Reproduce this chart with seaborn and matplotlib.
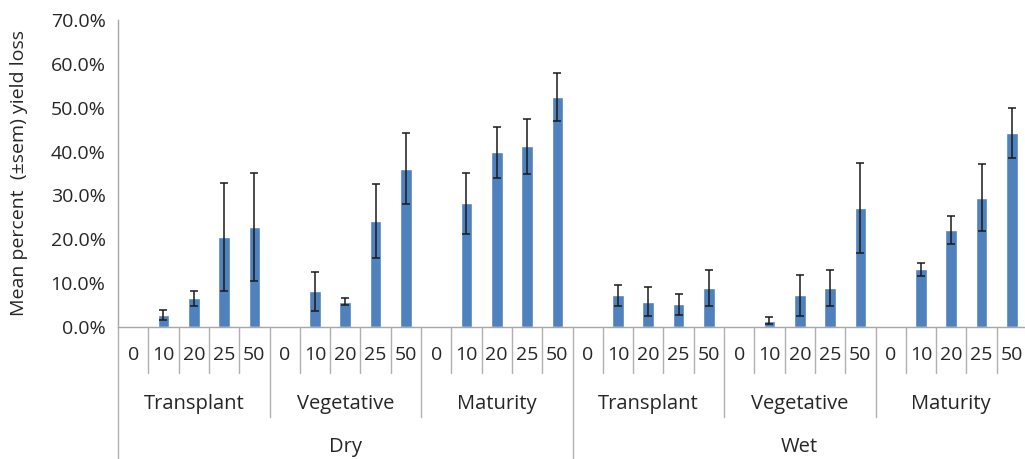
import matplotlib
matplotlib.use("Agg")
import matplotlib.pyplot as plt
import matplotlib.transforms as mtransforms
import seaborn as sns
import pandas as pd
import numpy as np

# ---- data ----
seasons = ["Dry", "Wet"]
stages = ["Transplant", "Vegetative", "Maturity"]
doses = ["0", "10", "20", "25", "50"]

dry_transplant = [0.0, 2.8, 6.5, 20.6, 22.8]
dry_transplant_sem = [0.0, 1.1, 1.7, 12.3, 12.4]
dry_vegetative = [0.0, 8.1, 5.8, 24.2, 36.1]
dry_vegetative_sem = [0.0, 4.5, 0.8, 8.5, 8.1]
dry_maturity = [0.0, 28.2, 39.8, 41.2, 52.5]
dry_maturity_sem = [0.0, 7.0, 5.8, 6.2, 5.5]
wet_transplant = [0.0, 7.2, 5.8, 5.2, 8.8]
wet_transplant_sem = [0.0, 2.4, 3.4, 2.4, 4.1]
wet_vegetative = [0.0, 1.4, 7.2, 8.8, 27.2]
wet_vegetative_sem = [0.0, 0.8, 4.7, 4.1, 10.3]
wet_maturity = [0.0, 13.2, 22.1, 29.5, 44.2]
wet_maturity_sem = [0.0, 1.5, 3.1, 7.6, 5.7]

y_ticks = [0, 10, 20, 30, 40, 50, 60, 70]
y_label = "Mean percent  (\u00b1sem) yield loss"

# ---- build table ----
series = [dry_transplant, dry_vegetative, dry_maturity,
          wet_transplant, wet_vegetative, wet_maturity]
sems = [dry_transplant_sem, dry_vegetative_sem, dry_maturity_sem,
        wet_transplant_sem, wet_vegetative_sem, wet_maturity_sem]
rows = []
for si, s in enumerate(seasons):
    for gi, g in enumerate(stages):
        vals = series[si * 3 + gi]
        errs = sems[si * 3 + gi]
        for di, d in enumerate(doses):
            rows.append(dict(key=f"{s}|{g}|{d}", season=s, stage=g, dose=d,
                             value=vals[di], sem=errs[di]))
df = pd.DataFrame(rows)
order = list(df["key"])

sns.set_theme(style="white")
plt.rcParams['font.family'] = ['Open Sans', 'DejaVu Sans']

TXT = "#262626"
fig = plt.figure(figsize=(10.25, 4.59), dpi=100)
ax = fig.add_axes([118 / 1025, (459 - 327) / 459, 909 / 1025, 307 / 459])

sns.barplot(data=df, x="key", y="value", order=order, color="#4f81bd",
            width=0.38, errorbar=None, saturation=1, ax=ax)
xpos = np.arange(len(order))
ax.errorbar(xpos, df["value"], yerr=df["sem"].where(df["value"] > 0, np.nan),
            fmt="none", ecolor="#1a1a1a", elinewidth=1.1, capsize=3, capthick=1.1)

ax.set_xlim(-0.5, len(order) - 0.5)
ax.set_ylim(0, 70)
ax.set_yticks(y_ticks)
ax.set_yticklabels([f"{v:.1f}%" for v in y_ticks], fontsize=14, color=TXT)
ax.set_ylabel(y_label, fontsize=14, color=TXT)
ax.yaxis.set_label_coords(-(118 - 28) / 909, 0.5)
ax.set_xlabel("")
ax.set_xticks([])
for sp in ["top", "right", "bottom"]:
    ax.spines[sp].set_visible(False)
ax.spines["left"].set_color("#a6a6a6")
ax.spines["left"].set_linewidth(1)
ax.tick_params(axis="y", direction="out", length=5, color="#a6a6a6", width=1, pad=4)
ax.axhline(0, color="#a6a6a6", lw=1, clip_on=False)

trans = mtransforms.blended_transform_factory(ax.transData, ax.transAxes)
gray = "#b0b0b0"
n = len(order)
for b in range(n + 1):
    x = b - 0.5
    if b % 15 == 0:
        y0 = -0.43
    elif b % 5 == 0:
        y0 = -0.293
    else:
        y0 = -0.15
    ax.plot([x, x], [0, y0], transform=trans, color=gray, lw=1, clip_on=False)

for i, d in enumerate(df["dose"]):
    ax.text(i, -0.091, d, transform=trans, ha="center", va="center",
            fontsize=14, color=TXT)
for si in range(len(seasons)):
    for gi, g in enumerate(stages):
        c = si * 15 + gi * 5 + 2
        ax.text(c, -0.251, g, transform=trans, ha="center", va="center",
                fontsize=14.5, color=TXT)
    ax.text(si * 15 + 7, -0.391, seasons[si], transform=trans, ha="center",
            va="center", fontsize=14.5, color=TXT)

fig.savefig("out.png", dpi=100)
